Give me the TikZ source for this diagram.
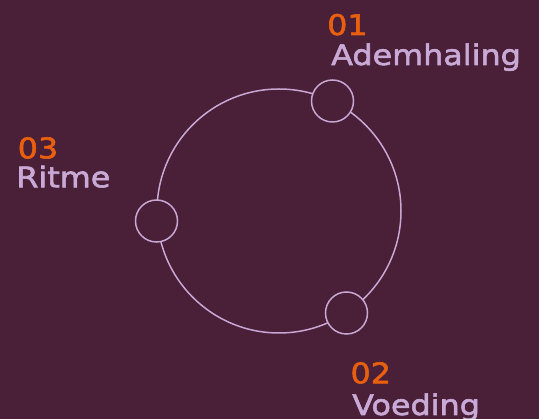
\documentclass[tikz,border=0pt]{standalone}
\usepackage{fontspec}
\newfontfamily\lblfont[FakeStretch=1.12, FakeBold=2]{DejaVu Sans}
\definecolor{bgc}{HTML}{4A1F38}
\definecolor{numc}{HTML}{E8600E}
\definecolor{txtc}{HTML}{C9AAD6}
\definecolor{linec}{HTML}{C9A7D2}
\tikzset{
  ring/.style={circle, draw=linec, line width=1.5pt, inner sep=0pt},
  dot/.style={circle, draw=linec, fill=bgc, line width=1.5pt, inner sep=0pt, minimum size=42pt},
  num/.style={anchor=base west, inner sep=0pt, text=numc, font=\lblfont\fontsize{28.4}{30}\selectfont},
  lbl/.style={anchor=base west, inner sep=0pt, text=txtc, font=\lblfont\fontsize{28.4}{30}\selectfont}
}
\begin{document}
\begin{tikzpicture}[x=1pt, y=-1pt]
\fill[bgc] (0,0) rectangle (539,419);
\useasboundingbox (0,0) rectangle (539,419);
\node[ring, minimum size=244pt] (big) at (279,211) {};
\node[dot] (d1) at (332.5,101) {};
\node[dot] (d2) at (346.5,313) {};
\node[dot] (d3) at (156.5,221) {};
\node[num] (n1) at (327,35) {01};
\node[lbl] (l1) at (331,65) {Ademhaling};
\node[num] (n3) at (17.5,158.3) {03};
\node[lbl] (l3) at (16.2,187.3) {Ritme};
\node[num] (n2) at (350.3,383.3) {02};
\node[lbl] (l2) at (352,415) {Voeding};
\end{tikzpicture}
\end{document}
